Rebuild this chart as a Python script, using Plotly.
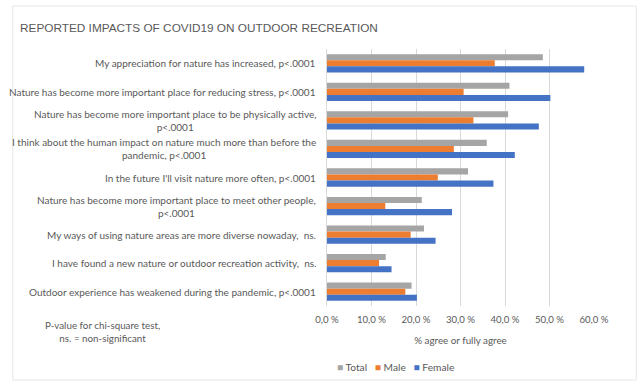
import plotly.graph_objects as go

categories = [
    "My appreciation for nature has increased, p<.0001",
    "Nature has become more important place for reducing stress, p<.0001",
    "Nature has become more important place to be physically active,<br>p<.0001",
    "I think about the human impact on nature much more than before the<br>pandemic, p<.0001",
    "In the future I'll visit nature more often, p<.0001",
    "Nature has become more important place to meet other people,<br>p<.0001",
    "My ways of using nature areas are more diverse nowaday,  ns.",
    "I have found a new nature or outdoor recreation activity,  ns.",
    "Outdoor experience has weakened during the pandemic, p<.0001",
]
total = [48.5, 41.0, 40.7, 35.9, 31.7, 21.3, 21.8, 13.2, 19.0]
male = [37.7, 30.7, 32.9, 28.5, 24.9, 13.1, 18.8, 11.7, 17.6]
female = [57.8, 50.2, 47.6, 42.2, 37.4, 28.1, 24.4, 14.5, 20.2]
tick_vals = [0, 10, 20, 30, 40, 50, 60]
tick_text = ["0,0 %", "10,0 %", "20,0 %", "30,0 %", "40,0 %", "50,0 %", "60,0 %"]

FONT = "Lato, Open Sans, sans-serif"
TFONT = "Liberation Sans, Arial, sans-serif"
TXT = "#595959"

series = [("Total", total, "#A5A5A5"),
          ("Male", male, "#ED7D31"),
          ("Female", female, "#4472C4")]

keys = list(range(len(categories)))

fig = go.Figure()
for name, vals, col in series:
    fig.add_trace(go.Bar(y=keys, x=vals, name=name, orientation="h",
                         marker=dict(color=col, line=dict(width=0))))

# category labels, right-aligned block with centred lines
for k, label in zip(keys, categories):
    fig.add_annotation(x=0, xref="paper", xanchor="right", xshift=-9,
                       y=k, yref="y", yanchor="middle",
                       text=label, showarrow=False, align="center",
                       font=dict(family=FONT, size=10, color=TXT))

# note about the test
fig.add_annotation(xref="paper", yref="paper", x=-225 / 267, y=-11 / 257,
                   xanchor="center", yanchor="top", align="center",
                   text="P-value for chi-square test,<br>ns. = non-significant",
                   showarrow=False, font=dict(family=FONT, size=9.8, color=TXT))

# legend drawn as a text row
legend_text = "&nbsp;&nbsp;&nbsp;".join(
    f'<span style="color:{col}">■</span> {name}' for name, _, col in series)
fig.add_annotation(xref="paper", yref="paper", x=(395 - 326.7) / 267,
                   y=-(367 - 306) / 257, xanchor="center", yanchor="middle",
                   text=legend_text, showarrow=False,
                   font=dict(family=FONT, size=10.2, color=TXT))

# frame around the chart
fig.add_shape(type="rect", xref="paper", yref="paper",
              x0=-314.2 / 267, x1=(636 - 326.7) / 267,
              y0=-74 / 257, y1=(306 - 6) / 257,
              line=dict(color="#E6E6E6", width=1), layer="below")

fig.update_layout(
    width=637, height=381,
    margin=dict(l=326.7, r=43.3, t=49, b=75),
    paper_bgcolor="white", plot_bgcolor="white",
    title=dict(text="REPORTED IMPACTS OF COVID19 ON OUTDOOR RECREATION",
               x=20 / 637, xanchor="left", y=1 - 28 / 381, yanchor="middle",
               font=dict(family=TFONT, size=11.8, color=TXT)),
    barmode="group", bargap=0.36, bargroupgap=0,
    xaxis=dict(range=[0, 60], tickvals=tick_vals, ticktext=tick_text,
               showgrid=True, gridcolor="#D9D9D9", gridwidth=1,
               zeroline=False, showline=False, ticks="",
               ticklabelstandoff=6,
               tickfont=dict(family=FONT, size=9.6, color=TXT),
               title=dict(text="% agree or fully agree", standoff=13,
                          font=dict(family=FONT, size=9.8, color=TXT))),
    yaxis=dict(autorange="reversed", showticklabels=False, showgrid=False,
               zeroline=False, showline=True, linecolor="#D9D9D9", ticks=""),
    showlegend=False,
)

fig.write_html("out.html")
